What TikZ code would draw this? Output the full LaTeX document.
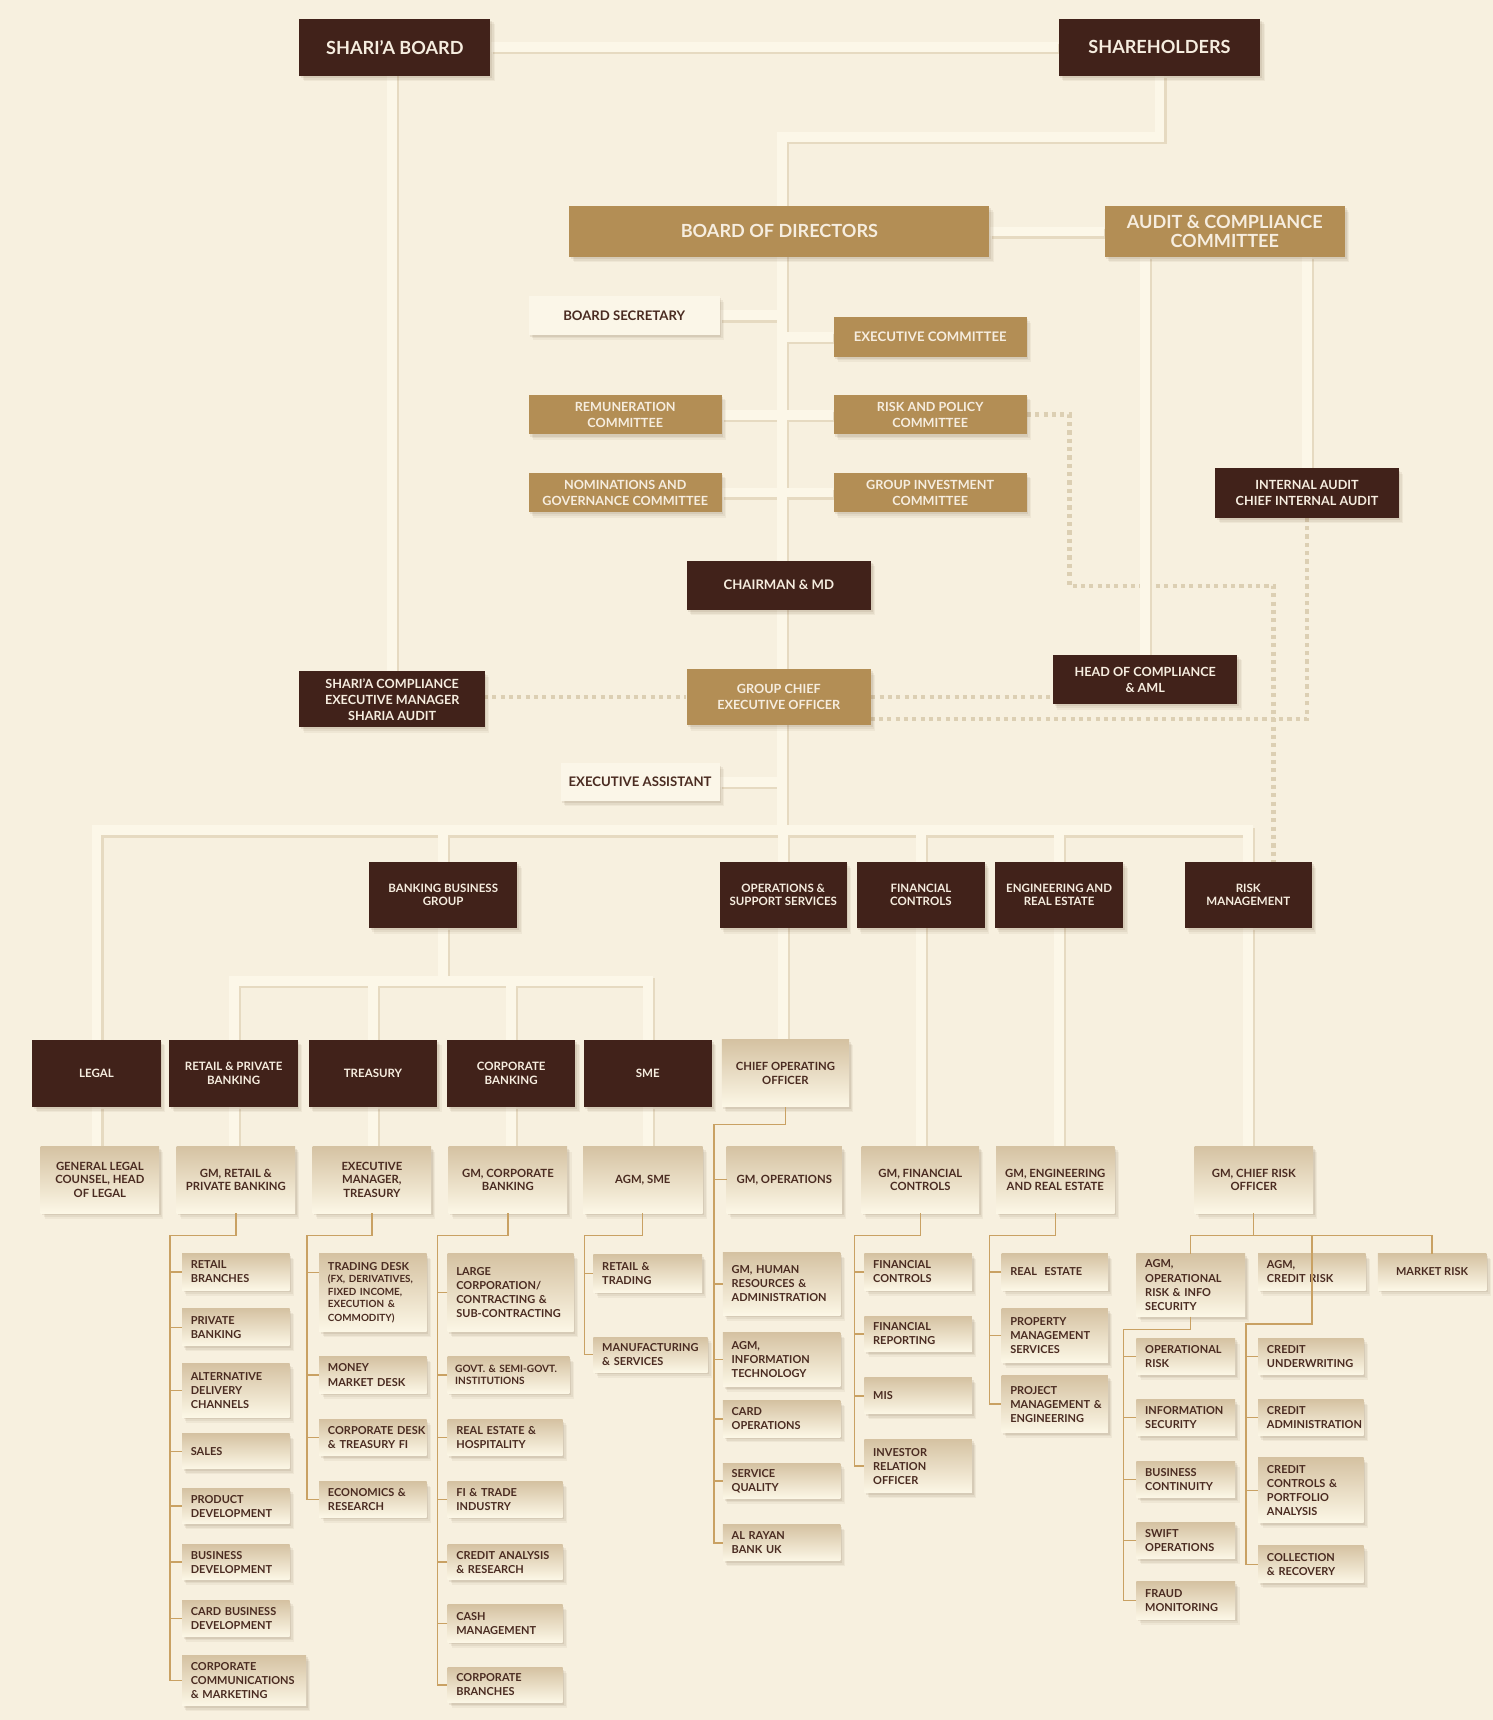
\documentclass[tikz,border=0pt]{standalone}
\usepackage{fontspec}
\setmainfont{Lato}
\usetikzlibrary{shadows}

\definecolor{paper}{HTML}{F7F0DF}
\definecolor{trunkfill}{HTML}{FCF7E8}
\definecolor{trunkshade}{HTML}{E6DAC1}
\definecolor{bark}{HTML}{41221A}
\definecolor{ochre}{HTML}{B38E55}
\definecolor{pale}{HTML}{FBF6E8}
\definecolor{sandtop}{HTML}{D5C2A2}
\definecolor{sandbot}{HTML}{FCF7E6}
\definecolor{twigcol}{HTML}{C9A163}
\definecolor{dotcol}{HTML}{DCCFB3}
\definecolor{ink}{HTML}{4A2B21}
\definecolor{cream}{HTML}{F6EDDF}
\definecolor{shadecol}{HTML}{6B5030}

\pgfdeclarelayer{background}
\pgfsetlayers{background,main}

\newcommand{\fsTop}{\fontsize{16.5}{17.5}\selectfont\bfseries}
\newcommand{\fsBig}{\fontsize{12}{14}\selectfont\bfseries}
\newcommand{\fsMid}{\fontsize{11.5}{14.5}\selectfont\bfseries}
\newcommand{\fsUnit}{\fontsize{10.5}{12}\selectfont\bfseries}
\newcommand{\fsHead}{\fontsize{10.3}{12.2}\selectfont\bfseries}
\newcommand{\fsItem}{\fontsize{10}{12.8}\selectfont\bfseries}
\newcommand{\fsSmall}{\fontsize{9}{11}\selectfont\bfseries}

% the wide reporting lines, drawn twice (shadow, then fill)
\newcommand{\trunklines}[1]{%
  \draw[#1] (shb) -- (shh);
  \draw[#1] (sca) -- (sca |- shb);
  \draw[#1] (shh) |- (spt) -- (bus);
  \draw[#1] (bod) -- (acc);
  \draw[#1] (acc.south -| hca) -- (hca);
  \draw[#1] (acc.south -| ia) -- (ia);
  \draw[#1] (bsec) -- (bsec -| spt);
  \draw[#1] (exc) -- (exc -| spt);
  \draw[#1] (rem) -- (rpc);
  \draw[#1] (nom) -- (gic);
  \draw[#1] (ea) -- (ea -| spt);
  \draw[#1] (legal) |- (bus) -| (rm);
  \draw[#1] (bbg) -- (bbg |- bus);
  \draw[#1] (oss |- bus) -- (oss |- coo);
  \draw[#1] (fc |- bus) -- (fc |- gmf);
  \draw[#1] (ere |- bus) -- (ere |- gme);
  \draw[#1] (rm) -- (rm |- gmcr);
  \draw[#1] (bbg) -- (bbg |- inbus);
  \draw[#1] (rpb) |- (inbus) -| (sme);
  \draw[#1] (trs) -- (trs |- inbus);
  \draw[#1] (cb) -- (cb |- inbus);
  \draw[#1] (legal) -- (legal |- gl);
  \draw[#1] (rpb) -- (rpb |- gmr);
  \draw[#1] (trs) -- (trs |- emt);
  \draw[#1] (cb) -- (cb |- gmc);
  \draw[#1] (sme) -- (sme |- agms);
}

\begin{document}
\begin{tikzpicture}[x=1pt,y=-1pt]
\tikzset{
  every node/.style={inner sep=0pt,align=center},
  boxshade/.style={
    drop shadow={shadow xshift=4pt,shadow yshift=-5pt,fill=shadecol,opacity=.06},
    drop shadow={shadow xshift=3pt,shadow yshift=-3.5pt,fill=shadecol,opacity=.08},
    drop shadow={shadow xshift=1.5pt,shadow yshift=-2pt,fill=shadecol,opacity=.10}},
  darkbox/.style={boxshade,fill=bark,text=cream,font=\fsUnit},
  goldbox/.style={boxshade,fill=ochre,text=cream,font=\fsMid},
  palebox/.style={boxshade,fill=pale,text=ink,font=\fsBig},
  sandbox/.style={boxshade,top color=sandtop,bottom color=sandbot,text=ink,font=\fsHead},
  itembox/.style={sandbox,font=\fsItem,align=left,inner xsep=8pt,text width=#1},
  trunk/.style={draw=trunkfill,line width=9pt},
  trunkshadow/.style={draw=trunkshade,line width=9pt},
  dotline/.style={draw=dotcol,line width=4pt,dash pattern=on 3.8pt off 3.8pt},
  twig/.style={draw=twigcol,line width=1.2pt}
}
\useasboundingbox (0,0) rectangle (1361,1568);
\begin{pgfonlayer}{background}
\fill[paper] (0,0) rectangle (1361,1568);
\end{pgfonlayer}

\coordinate (spt) at (713,125);
\coordinate (bus) at (713,757);
\coordinate (inbus) at (404,894);

% board level
\node[darkbox,font=\fsTop,minimum width=174,minimum height=52] (shb) at (360,43) {SHARI’A BOARD};
\node[darkbox,font=\fsTop,minimum width=184,minimum height=52] (shh) at (1057,43) {SHAREHOLDERS};
\node[goldbox,font=\fsTop,minimum width=383,minimum height=46] (bod) at (710.5,211) {BOARD OF DIRECTORS};
\node[goldbox,font=\fsTop,minimum width=219,minimum height=46] (acc) at (1116.5,211) {AUDIT \& COMPLIANCE\\COMMITTEE};

\node[palebox,minimum width=174,minimum height=35] (bsec) at (569,287.5) {BOARD SECRETARY};
\node[goldbox,font=\fsBig,minimum width=176,minimum height=36] (exc) at (848,307) {EXECUTIVE COMMITTEE};
\node[goldbox,minimum width=176,minimum height=36] (rem) at (570,378) {REMUNERATION\\COMMITTEE};
\node[goldbox,minimum width=176,minimum height=36] (rpc) at (848,378) {RISK AND POLICY\\COMMITTEE};
\node[goldbox,minimum width=176,minimum height=36] (nom) at (570,449) {NOMINATIONS AND\\GOVERNANCE COMMITTEE};
\node[goldbox,minimum width=176,minimum height=36] (gic) at (848,449) {GROUP INVESTMENT\\COMMITTEE};
\node[darkbox,font=\fsMid,minimum width=167,minimum height=45] (ia) at (1191.5,449.5) {INTERNAL AUDIT\\CHIEF INTERNAL AUDIT};
\node[darkbox,font=\fsBig,minimum width=168,minimum height=45] (cmd) at (710,533.5) {CHAIRMAN \& MD};
\node[darkbox,font=\fsMid,minimum width=169,minimum height=51] (sca) at (357.5,637.5) {SHARI’A COMPLIANCE\\EXECUTIVE MANAGER\\SHARIA AUDIT};
\node[goldbox,minimum width=168,minimum height=51] (gceo) at (710,635.5) {GROUP CHIEF\\EXECUTIVE OFFICER};
\node[darkbox,font=\fsMid,minimum width=168,minimum height=45] (hca) at (1044,619.5) {HEAD OF COMPLIANCE\\\& AML};
\node[palebox,minimum width=145,minimum height=34] (ea) at (583.5,713) {EXECUTIVE ASSISTANT};

% groups
\node[darkbox,minimum width=135,minimum height=60] (bbg) at (404,816) {BANKING BUSINESS\\GROUP};
\node[darkbox,minimum width=116,minimum height=60] (oss) at (714,816) {OPERATIONS \&\\SUPPORT SERVICES};
\node[darkbox,minimum width=117,minimum height=60] (fc) at (839.5,816) {FINANCIAL\\CONTROLS};
\node[darkbox,minimum width=117,minimum height=60] (ere) at (965.5,816) {ENGINEERING AND\\REAL ESTATE};
\node[darkbox,minimum width=116,minimum height=60] (rm) at (1138,816) {RISK\\MANAGEMENT};

\node[darkbox,minimum width=117,minimum height=61] (legal) at (88,978.5) {LEGAL};
\node[darkbox,minimum width=117,minimum height=61] (rpb) at (213,978.5) {RETAIL \& PRIVATE\\BANKING};
\node[darkbox,minimum width=117,minimum height=61] (trs) at (340,978.5) {TREASURY};
\node[darkbox,minimum width=117,minimum height=61] (cb) at (466,978.5) {CORPORATE\\BANKING};
\node[darkbox,minimum width=117,minimum height=61] (sme) at (590.5,978.5) {SME};
\node[sandbox,minimum width=116,minimum height=61] (coo) at (716,978.5) {CHIEF OPERATING\\OFFICER};

% heads
\node[sandbox,minimum width=108,minimum height=61] (gl) at (91,1075.5) {GENERAL LEGAL\\COUNSEL, HEAD\\OF LEGAL};
\node[sandbox,minimum width=108,minimum height=61] (gmr) at (215,1075.5) {GM, RETAIL \&\\PRIVATE BANKING};
\node[sandbox,minimum width=108,minimum height=61] (emt) at (339,1075.5) {EXECUTIVE\\MANAGER,\\TREASURY};
\node[sandbox,minimum width=108,minimum height=61] (gmc) at (463,1075.5) {GM, CORPORATE\\BANKING};
\node[sandbox,minimum width=109,minimum height=61] (agms) at (586,1075.5) {AGM, SME};
\node[sandbox,minimum width=105,minimum height=61] (gmo) at (715,1075.5) {GM, OPERATIONS};
\node[sandbox,minimum width=107,minimum height=61] (gmf) at (839,1075.5) {GM, FINANCIAL\\CONTROLS};
\node[sandbox,minimum width=108,minimum height=61] (gme) at (962,1075.5) {GM, ENGINEERING\\AND REAL ESTATE};
\node[sandbox,minimum width=108,minimum height=61] (gmcr) at (1143,1075.5) {GM, CHIEF RISK\\OFFICER};

% retail
\node[itembox=82pt,minimum height=33] (rb1) at (215,1159.5) {RETAIL\\BRANCHES};
\node[itembox=82pt,minimum height=34] (rb2) at (215,1210) {PRIVATE\\BANKING};
\node[itembox=82pt,minimum height=49] (rb3) at (215,1267.5) {ALTERNATIVE\\DELIVERY\\CHANNELS};
\node[itembox=82pt,minimum height=32] (rb4) at (215,1323) {SALES};
\node[itembox=82pt,minimum height=32] (rb5) at (215,1373) {PRODUCT\\DEVELOPMENT};
\node[itembox=82pt,minimum height=32] (rb6) at (215,1424) {BUSINESS\\DEVELOPMENT};
\node[itembox=82pt,minimum height=33] (rb7) at (215,1475.5) {CARD~BUSINESS\\DEVELOPMENT};
\node[itembox=97pt,minimum height=46] (rb8) at (222.5,1532) {CORPORATE\\COMMUNICATIONS\\\& MARKETING};

% treasury
\node[itembox=82pt,minimum height=71] (tr1) at (340,1178.5) {TRADING~DESK\\{\fsSmall(FX, DERIVATIVES,\\FIXED INCOME,\\EXECUTION \&\\COMMODITY)}};
\node[itembox=82pt,minimum height=33] (tr2) at (340,1253.5) {MONEY\\MARKET~DESK};
\node[itembox=82pt,minimum height=33] (tr3) at (340,1310.5) {CORPORATE~DESK\\\&~TREASURY~FI};
\node[itembox=82pt,minimum height=32] (tr4) at (340,1367) {ECONOMICS~\&\\RESEARCH};

% corporate
\node[itembox=99pt,minimum height=71] (cb1) at (465.5,1178.5) {LARGE\\CORPORATION/\\CONTRACTING~\&\\SUB-CONTRACTING};
\node[itembox=97pt,inner xsep=7pt,minimum height=33,font=\fontsize{9.2}{11}\selectfont\bfseries] (cb2) at (463.5,1253.5) {GOVT.~\&~SEMI-GOVT.\\INSTITUTIONS};
\node[itembox=89pt,minimum height=33] (cb3) at (460.5,1310.5) {REAL~ESTATE~\&\\HOSPITALITY};
\node[itembox=89pt,minimum height=32] (cb4) at (460.5,1367) {FI~\&~TRADE\\INDUSTRY};
\node[itembox=89pt,minimum height=32] (cb5) at (460.5,1424) {CREDIT~ANALYSIS\\\&~RESEARCH};
\node[itembox=89pt,minimum height=34] (cb6) at (460.5,1480) {CASH\\MANAGEMENT};
\node[itembox=89pt,minimum height=32] (cb7) at (460.5,1536) {CORPORATE\\BRANCHES};

% sme
\node[itembox=83pt,minimum height=34] (sm1) at (590.5,1161) {RETAIL~\&\\TRADING};
\node[itembox=88pt,minimum height=32] (sm2) at (593,1235) {MANUFACTURING\\\&~SERVICES};

% operations
\node[itembox=91pt,minimum height=57] (op1) at (712.5,1170.5) {GM, HUMAN\\RESOURCES~\&\\ADMINISTRATION};
\node[itembox=91pt,minimum height=49] (op2) at (712.5,1239.5) {AGM,\\INFORMATION\\TECHNOLOGY};
\node[itembox=91pt,minimum height=33] (op3) at (712.5,1293.5) {CARD\\OPERATIONS};
\node[itembox=91pt,minimum height=32] (op4) at (712.5,1350) {SERVICE\\QUALITY};
\node[itembox=91pt,minimum height=33] (op5) at (712.5,1406.5) {AL~RAYAN\\BANK~UK};

% finance
\node[itembox=82pt,minimum height=33] (fn1) at (837,1159.5) {FINANCIAL\\CONTROLS};
\node[itembox=82pt,minimum height=32] (fn2) at (837,1216) {FINANCIAL\\REPORTING};
\node[itembox=82pt,minimum height=33] (fn3) at (837,1272.5) {MIS};
\node[itembox=82pt,minimum height=49] (fn4) at (837,1336.5) {INVESTOR\\RELATION\\OFFICER};

% engineering
\node[itembox=81pt,minimum height=33] (en1) at (961.5,1159.5) {REAL~~ESTATE};
\node[itembox=81pt,minimum height=49] (en2) at (961.5,1217.5) {PROPERTY\\MANAGEMENT\\SERVICES};
\node[itembox=81pt,minimum height=52] (en3) at (961.5,1280) {PROJECT\\MANAGEMENT~\&\\ENGINEERING};

% risk
\node[itembox=83pt,minimum height=57] (rk1) at (1085.5,1171.5) {AGM,\\OPERATIONAL\\RISK~\&~INFO\\SECURITY};
\node[itembox=82pt,minimum height=33] (rk2) at (1196,1159.5) {AGM,\\CREDIT~RISK};
\node[sandbox,font=\fsItem,minimum width=99,minimum height=33] (rk3) at (1305.5,1159.5) {MARKET RISK};
\node[itembox=74pt,minimum height=33] (ro1) at (1081,1236.5) {OPERATIONAL\\RISK};
\node[itembox=74pt,minimum height=33] (ro2) at (1081,1292.5) {INFORMATION\\SECURITY};
\node[itembox=74pt,minimum height=33] (ro3) at (1081,1348.5) {BUSINESS\\CONTINUITY};
\node[itembox=74pt,minimum height=33] (ro4) at (1081,1404.5) {SWIFT\\OPERATIONS};
\node[itembox=74pt,minimum height=34] (ro5) at (1081,1459) {FRAUD\\MONITORING};
\node[itembox=80pt,minimum height=33] (rc1) at (1195,1236.5) {CREDIT\\UNDERWRITING};
\node[itembox=80pt,minimum height=33] (rc2) at (1195,1292.5) {CREDIT\\ADMINISTRATION};
\node[itembox=80pt,minimum height=59] (rc3) at (1195,1358.5) {CREDIT\\CONTROLS~\&\\PORTFOLIO\\ANALYSIS};
\node[itembox=80pt,minimum height=34] (rc4) at (1195,1426) {COLLECTION\\\&~RECOVERY};

\begin{pgfonlayer}{background}
\coordinate (dj) at (975,534);
\coordinate (dk) at (1161,534);
\draw[dotline] (rpc) -| (dj) -- (dk) -- (dk |- rm);
\draw[dotline] (gceo -| sca) -- (gceo);
\draw[dotline] (gceo) -- (gceo -| hca);
\draw[dotline] ([yshift=-20pt]gceo.center) -| (ia);
\begin{scope}[transform canvas={shift={(2pt,-2pt)}}]
\trunklines{trunkshadow}
\end{scope}
\trunklines{trunk}
\end{pgfonlayer}

% thin reporting lines
\coordinate (rv) at (155,1126);
\coordinate (tv) at (280,1126);
\coordinate (cv) at (399,1126);
\coordinate (sv) at (533,1126);
\coordinate (ov) at (651,1025);
\coordinate (fv) at (779,1126);
\coordinate (ev) at (902,1126);
\coordinate (kv) at (1143,1126);
\coordinate (qv) at (1024,1212);
\coordinate (crv) at (1136,1207);

\draw[twig] (gmr.south) |- (rv) -- (rv |- rb8) -- (rb8.west);
\foreach \b in {rb1,rb2,rb3,rb4,rb5,rb6,rb7}
  \draw[twig] (\b.west) -- (\b.west -| rv);
\draw[twig] (emt.south) |- (tv) -- (tv |- tr4) -- (tr4.west);
\draw[twig] ([yshift=-17pt]tr1.north west) -- ++(-11,0);
\foreach \b in {tr2,tr3}
  \draw[twig] (\b.west) -- (\b.west -| tv);
\draw[twig] (gmc.south) |- (cv) -- (cv |- cb7) -- (cb7.west);
\foreach \b in {cb1,cb2,cb3,cb4,cb5,cb6}
  \draw[twig] (\b.west) -- (\b.west -| cv);
\draw[twig] (agms.south) |- (sv) -- (sv |- sm2) -- (sm2.west);
\draw[twig] (sm1.west) -- (sm1.west -| sv);
\draw[twig] (coo.south) |- (ov) -- (ov |- op5) -- (op5.west);
\foreach \b in {gmo,op1,op2,op3,op4}
  \draw[twig] (\b.west) -- (\b.west -| ov);
\draw[twig] (gmf.south) |- (fv) -- (fv |- fn4) -- (fn4.west);
\foreach \b in {fn1,fn2,fn3}
  \draw[twig] (\b.west) -- (\b.west -| fv);
\draw[twig] (gme.south) |- (ev) -- (ev |- en3) -- (en3.west);
\foreach \b in {en1,en2}
  \draw[twig] (\b.west) -- (\b.west -| ev);
\draw[twig] (gmcr.south) -- (kv);
\draw[twig] (rk1.north) |- (kv) -| (rk3.north);
\draw[twig] (rk2.north |- kv) -- (rk2 |- crv) -- (crv) -- (crv |- rc4) -- (rc4.west);
\foreach \b in {rc1,rc2,rc3}
  \draw[twig] (\b.west) -- (\b.west -| crv);
\draw[twig] (rk1.south) |- (qv) -- (qv |- ro5) -- (ro5.west);
\foreach \b in {ro1,ro2,ro3,ro4}
  \draw[twig] (\b.west) -- (\b.west -| qv);

\end{tikzpicture}
\end{document}
